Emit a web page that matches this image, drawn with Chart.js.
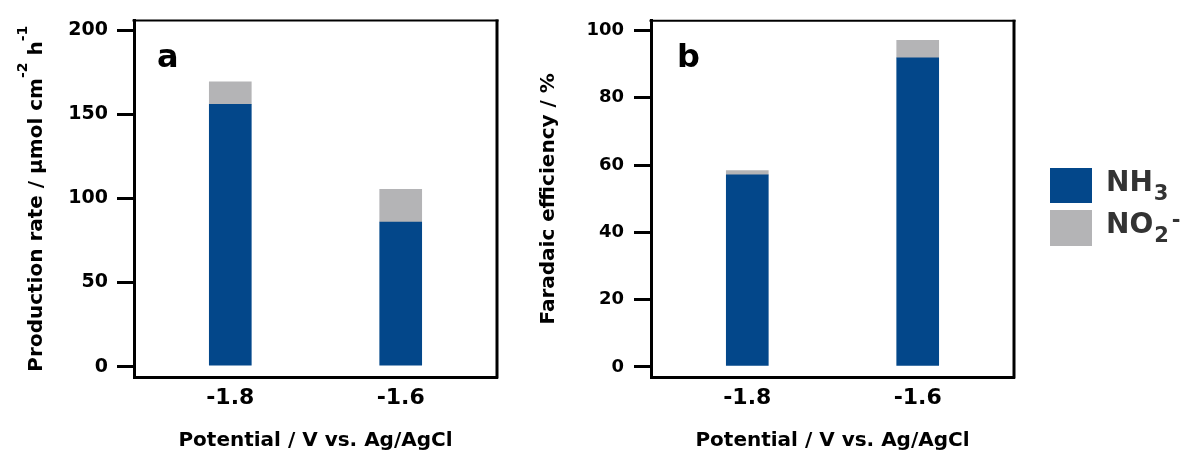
<!DOCTYPE html>
<html>
<head>
<meta charset="utf-8">
<script src="https://cdn.jsdelivr.net/npm/chart.js@4.4.0/dist/chart.umd.min.js"></script>
<style>
  html, body { margin: 0; padding: 0; background: #fff; }
  #wrap { position: relative; width: 1189px; height: 463px; overflow: hidden; }
  canvas { position: absolute; top: 0; }
</style>
</head>
<body>
<div id="wrap">
  <canvas id="rate" width="520" height="463" style="left:0px"></canvas>
  <canvas id="fe" width="669" height="463" style="left:520px"></canvas>
</div>
<script>
// Electrode potentials (V vs. Ag/AgCl)
const categories = ['-1.8', '-1.6'];

// Panel a: production rate, µmol cm^-2 h^-1
const rateNH3 = [156, 86];
const rateNO2 = [13.4, 19.4];
const rateTicks = [0, 50, 100, 150, 200];

// Panel b: Faradaic efficiency, %
const feNH3 = [57.1, 91.9];
const feNO2 = [1.3, 5.2];
const feTicks = [0, 20, 40, 60, 80, 100];

// Series names and how their legend labels are typeset
const seriesNames = ['NH3', 'NO2-'];
const legendParts = [
  { main: 'NH', sub: '3', sup: '' },
  { main: 'NO', sub: '2', sup: '-' }
];

const FONT = '"DejaVu Sans", sans-serif';
const BLUE = '#03478a';
const GREY = '#b4b4b6';

function points(vals) {
  return categories.map((c, i) => ({ x: parseFloat(c), y: vals[i] }));
}

// Closes the box on the top and right, and writes the panel letter
function framePlugin(letter, letterDx) {
  return {
    id: 'frame',
    afterDraw(chart) {
      const { ctx, chartArea: a } = chart;
      ctx.save();
      ctx.strokeStyle = '#000';
      ctx.lineWidth = 2;
      ctx.beginPath();
      ctx.moveTo(a.left - 1.5, a.top);
      ctx.lineTo(a.right + 1.5, a.top);
      ctx.stroke();
      ctx.lineWidth = 3;
      ctx.beginPath();
      ctx.moveTo(a.right, a.top - 1);
      ctx.lineTo(a.right, a.bottom + 1.5);
      ctx.stroke();
      ctx.fillStyle = '#000';
      ctx.font = 'bold 32px ' + FONT;
      ctx.textBaseline = 'alphabetic';
      ctx.textAlign = 'left';
      ctx.fillText(letter, a.left + letterDx, 67);
      ctx.restore();
    }
  };
}

// Rotated y title with superscript exponents
const rateTitlePlugin = {
  id: 'rateTitle',
  afterDraw(chart) {
    const { ctx, chartArea: a } = chart;
    const parts = [
      { t: 'Production rate / \u03bcmol cm', sup: false },
      { t: '-2', sup: true },
      { t: ' h', sup: false },
      { t: '-1', sup: true }
    ];
    const mainFont = 'bold 20px ' + FONT;
    const supFont = 'bold 14px ' + FONT;
    ctx.save();
    let total = 0;
    parts.forEach(p => {
      ctx.font = p.sup ? supFont : mainFont;
      p.w = ctx.measureText(p.t).width;
      total += p.w;
    });
    ctx.translate(34, (a.top + a.bottom) / 2);
    ctx.rotate(-Math.PI / 2);
    ctx.fillStyle = '#000';
    ctx.textBaseline = 'alphabetic';
    ctx.textAlign = 'left';
    let x = -total / 2;
    parts.forEach(p => {
      ctx.font = p.sup ? supFont : mainFont;
      ctx.fillText(p.t, x, p.sup ? -7 : 8);
      x += p.w;
    });
    ctx.restore();
  }
};

// Legend with chemical subscripts, to the right of panel b
const legendPlugin = {
  id: 'chemLegend',
  afterDraw(chart) {
    const { ctx } = chart;
    const boxX = 530, textX = 586;
    const rows = [{ y: 168, h: 35, base: 191 }, { y: 210, h: 36, base: 233 }];
    ctx.save();
    chart.data.datasets.forEach((ds, i) => {
      const r = rows[i];
      const p = legendParts[i];
      ctx.fillStyle = ds.backgroundColor;
      ctx.fillRect(boxX, r.y, 42, r.h);
      ctx.fillStyle = '#333';
      ctx.textBaseline = 'alphabetic';
      ctx.textAlign = 'left';
      ctx.font = 'bold 28px ' + FONT;
      ctx.fillText(p.main, textX, r.base);
      let x = textX + ctx.measureText(p.main).width + 1;
      ctx.font = 'bold 21px ' + FONT;
      ctx.fillText(p.sub, x, r.base + 9);
      x += ctx.measureText(p.sub).width + 3;
      if (p.sup) ctx.fillText(p.sup, x, r.base - 6);
    });
    ctx.restore();
  }
};

function buildChart(id, o) {
  return new Chart(document.getElementById(id), {
    type: 'bar',
    data: {
      datasets: [
        { label: seriesNames[0], data: points(o.nh3), backgroundColor: BLUE, barThickness: 42 },
        { label: seriesNames[1], data: points(o.no2), backgroundColor: GREY, barThickness: 42 }
      ]
    },
    options: {
      responsive: false,
      animation: false,
      devicePixelRatio: 1,
      events: [],
      layout: { padding: { left: 0, right: o.padRight, top: 15, bottom: 0 } },
      plugins: { legend: { display: false }, tooltip: { enabled: false } },
      scales: {
        x: {
          type: 'linear',
          stacked: true,
          offset: false,
          min: -1.913,
          max: -1.487,
          afterFit: s => { s.height = 86; },
          afterBuildTicks: s => { s.ticks = categories.map(c => ({ value: parseFloat(c) })); },
          ticks: {
            callback: (v, i) => categories[i],
            color: '#000',
            font: { family: FONT, size: 22, weight: 'bold' },
            padding: 8,
            maxRotation: 0,
            autoSkip: false
          },
          grid: { display: false, drawTicks: false, offset: false },
          border: { display: true, color: '#000', width: 3 },
          title: {
            display: true,
            text: 'Potential / V vs. Ag/AgCl',
            color: '#000',
            font: { family: FONT, size: 20, weight: 'bold' },
            padding: { top: 0, bottom: 10 }
          }
        },
        y: {
          stacked: true,
          min: o.min,
          max: o.max,
          afterFit: s => { s.width = o.axisWidth; },
          afterBuildTicks: s => { s.ticks = o.ticks.map(v => ({ value: v })); },
          ticks: {
            color: '#000',
            font: { family: FONT, size: o.tickSize, weight: 'bold' },
            padding: o.tickPad
          },
          grid: {
            drawOnChartArea: false,
            drawTicks: true,
            tickLength: 17,
            tickWidth: 3,
            lineWidth: 3,
            color: '#000',
            tickColor: '#000'
          },
          border: { display: true, color: '#000', width: 3 },
          title: o.yTitle ? {
            display: true,
            text: o.yTitle,
            color: '#000',
            font: { family: FONT, size: 20, weight: 'bold' },
            padding: { top: 17, bottom: 0 }
          } : { display: false }
        }
      }
    },
    plugins: o.plugins
  });
}

buildChart('rate', {
  nh3: rateNH3, no2: rateNO2, ticks: rateTicks,
  min: -6.15, max: 205.86,
  axisWidth: 134, padRight: 23, tickPad: 9, tickSize: 19,
  yTitle: null,
  plugins: [framePlugin('a', 23), rateTitlePlugin]
});

buildChart('fe', {
  nh3: feNH3, no2: feNO2, ticks: feTicks,
  min: -3.0, max: 102.9,
  axisWidth: 131, padRight: 175, tickPad: 10, tickSize: 18,
  yTitle: 'Faradaic efficiency / %',
  plugins: [framePlugin('b', 26), legendPlugin]
});
</script>
</body>
</html>
